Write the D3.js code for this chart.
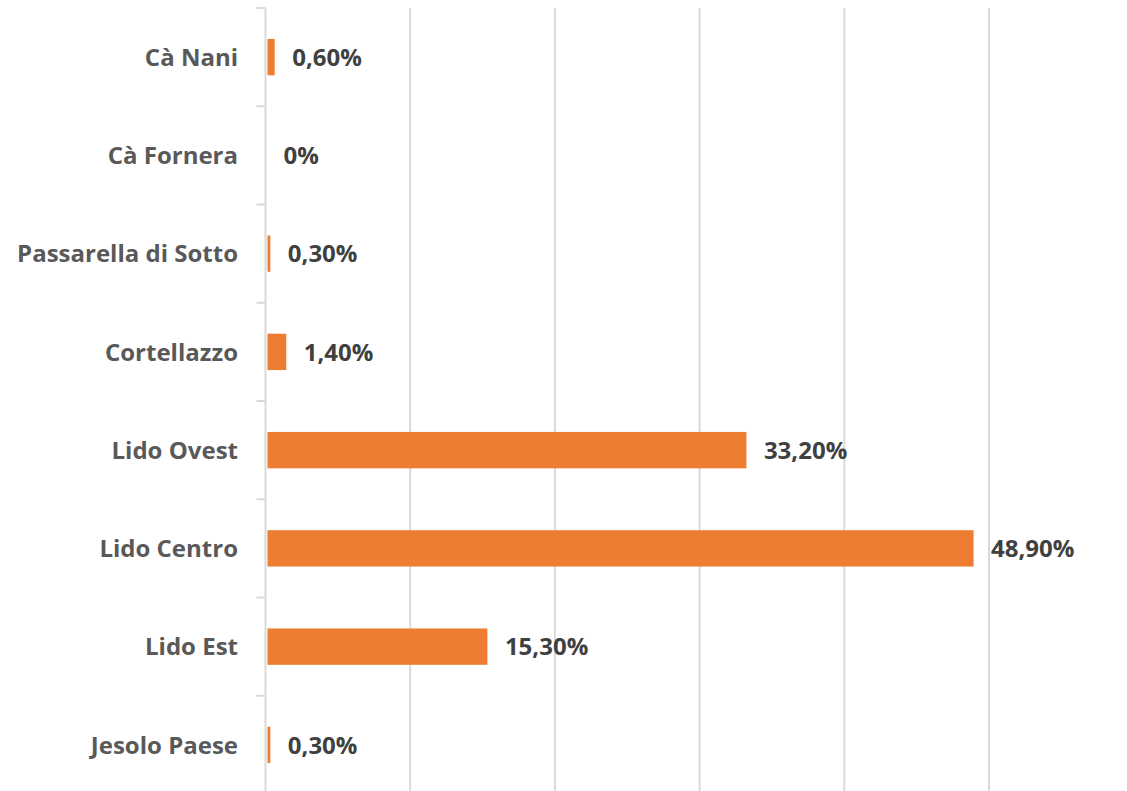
<!DOCTYPE html>
<html>
<head>
<meta charset="utf-8">
<script src="https://cdn.jsdelivr.net/npm/d3@7"></script>
<style>
  body { margin: 0; background: #fff; }
  text { font-family: "Open Sans", sans-serif; font-weight: bold; fill: #595959; }
</style>
</head>
<body>
<script>
var categories = ["Cà Nani", "Cà Fornera", "Passarella di Sotto", "Cortellazzo",
    "Lido Ovest", "Lido Centro", "Lido Est", "Jesolo Paese"];
var values = [0.6, 0, 0.3, 1.4, 33.2, 48.9, 15.3, 0.3];
var xTicks = [10, 20, 30, 40, 50];

var width = 1127, height = 791;
var margin = { top: 8, left: 265.5, right: 138 };

var svg = d3.select("body")
    .append("svg")
    .attr("width", width)
    .attr("height", height);

var x = d3.scaleLinear()
    .domain([0, 50])
    .range([margin.left, width - margin.right]);

var y = d3.scaleBand()
    .domain(categories)
    .range([margin.top, 794])
    .paddingInner(0.63)
    .paddingOuter(0.315);

var fmt = function (v) {
    return v === 0 ? "0%" : v.toFixed(2).replace(".", ",") + "%";
};

// vertical gridlines
svg.append("g")
    .selectAll("line")
    .data(xTicks)
    .enter().append("line")
    .attr("x1", function (d) { return x(d); })
    .attr("x2", function (d) { return x(d); })
    .attr("y1", margin.top)
    .attr("y2", height)
    .style("stroke", "#d9d9d9")
    .style("stroke-width", 2);

// y axis line + tick marks at band edges
var step = y.step();
var edges = d3.range(categories.length + 1).map(function (i) { return margin.top + i * step; });
svg.append("line")
    .attr("x1", x(0)).attr("x2", x(0))
    .attr("y1", margin.top).attr("y2", height)
    .style("stroke", "#d9d9d9")
    .style("stroke-width", 2);
svg.append("g")
    .selectAll("line")
    .data(edges)
    .enter().append("line")
    .attr("x1", x(0) - 9).attr("x2", x(0))
    .attr("y1", function (d) { return d; })
    .attr("y2", function (d) { return d; })
    .style("stroke", "#d9d9d9")
    .style("stroke-width", 2);

// bars
svg.append("g")
    .selectAll("rect")
    .data(values)
    .enter().append("rect")
    .attr("x", x(0) + 2)
    .attr("y", function (d, i) { return y(categories[i]); })
    .attr("height", y.bandwidth())
    .attr("width", function (d) { return Math.max(0, x(d) - x(0) - 1.5); })
    .style("fill", "#ed7d31");

// category labels
svg.append("g")
    .selectAll("text")
    .data(categories)
    .enter().append("text")
    .attr("x", 238)
    .attr("y", function (d) { return y(d) + y.bandwidth() / 2; })
    .attr("dy", "0.36em")
    .attr("text-anchor", "end")
    .style("font-size", "24px")
    .text(function (d) { return d; });

// value labels
svg.append("g")
    .selectAll("text")
    .data(values)
    .enter().append("text")
    .attr("x", function (d) { return x(d) + 18; })
    .attr("y", function (d, i) { return y(categories[i]) + y.bandwidth() / 2; })
    .attr("dy", "0.36em")
    .style("font-size", "24px")
    .style("fill", "#404040")
    .text(function (d) { return fmt(d); });
</script>
</body>
</html>
